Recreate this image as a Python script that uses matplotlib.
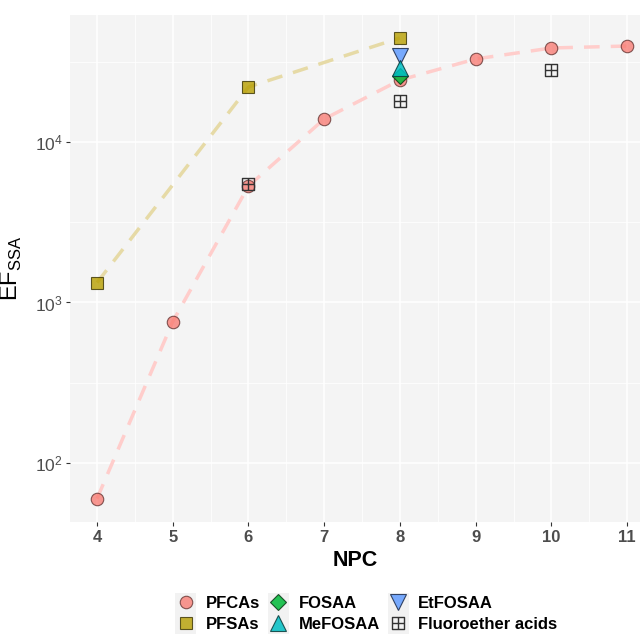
import numpy as np
import matplotlib
matplotlib.use('Agg')
import matplotlib.pyplot as plt
from matplotlib.path import Path
from matplotlib.patches import Rectangle
from matplotlib.ticker import LogLocator, NullFormatter, FixedLocator

plt.rcParams['font.family'] = ['Liberation Sans', 'DejaVu Sans']

# Values
pfca_npc = [4, 5, 6, 7, 8, 9, 10, 11]
pfca_ef = [60, 760, 5320, 13900, 24300, 32900, 38500, 39600]

pfsa_npc = [4, 6, 8]
pfsa_ef = [1330, 22000, 44500]

fosaa_npc = [8]
fosaa_ef = [25900]
mefosaa_npc = [8]
mefosaa_ef = [28900]
etfosaa_npc = [8]
etfosaa_ef = [34400]

ether_npc = [6, 8, 10]
ether_ef = [5500, 18000, 28000]

# square with a cross, like R shape 12
box_cross = Path(
    [(-1, -1), (1, -1), (1, 1), (-1, 1), (-1, -1),
     (0, -1), (0, 1), (-1, 0), (1, 0)],
    [Path.MOVETO, Path.LINETO, Path.LINETO, Path.LINETO, Path.CLOSEPOLY,
     Path.MOVETO, Path.LINETO, Path.MOVETO, Path.LINETO])

fig = plt.figure(figsize=(6.4, 6.34), dpi=100)
ax = fig.add_axes([70 / 640, 112 / 634, 570 / 640, 507 / 634])
ax.set_facecolor('#F4F4F4')
for s in ax.spines.values():
    s.set_visible(False)

ax.set_yscale('log')
ax.set_xlim(3.643, 11.17)
ax.set_ylim(42.9, 61800)

ax.xaxis.set_major_locator(FixedLocator(range(4, 12)))
ax.xaxis.set_minor_locator(FixedLocator(np.arange(3.5, 11.6, 1.0)))
ax.yaxis.set_major_locator(LogLocator(base=10, numticks=10))
ax.yaxis.set_minor_locator(FixedLocator([10 ** 1.5, 10 ** 2.5, 10 ** 3.5, 10 ** 4.5]))
ax.yaxis.set_minor_formatter(NullFormatter())
ax.grid(which='major', color='white', linewidth=1.1)
ax.grid(which='minor', color='white', linewidth=0.55)
ax.set_axisbelow(True)
ax.tick_params(which='major', length=3, color='#333333', width=0.8)
ax.tick_params(which='minor', length=0)
ax.tick_params(axis='x', labelsize=12, labelcolor='#4D4D4D', pad=3)
ax.tick_params(axis='y', labelsize=12.5, labelcolor='#4D4D4D', pad=2)
for lab in ax.get_xticklabels():
    lab.set_fontweight('bold')

# dashed trend lines
ax.plot(pfca_npc, pfca_ef, color='#FFCDCB', lw=2.5, dashes=(4.5, 3.2), zorder=2)
ax.plot(pfsa_npc, pfsa_ef, color='#E6DAA6', lw=2.5, dashes=(4.5, 3.2), zorder=2)

h1, = ax.plot(pfca_npc, pfca_ef, 'o', ms=9, mfc='#F8766D', alpha=0.75,
              mec='#5A2A28', mew=0.8, ls='none', zorder=3, label='PFCAs')
h2, = ax.plot(pfsa_npc, pfsa_ef, 's', ms=9, mfc='#B79F00', alpha=0.8,
              mec='#3A3300', mew=0.8, ls='none', zorder=3, label='PFSAs')
h3, = ax.plot(fosaa_npc, fosaa_ef, 'D', ms=8, mfc='#00BA38', alpha=0.85,
              mec='#0A3A15', mew=0.8, ls='none', zorder=4, label='FOSAA')
h4, = ax.plot(mefosaa_npc, mefosaa_ef, '^', ms=11, mfc='#00BFC4', alpha=0.85,
              mec='#0A3A3A', mew=0.8, ls='none', zorder=5, label='MeFOSAA')
h5, = ax.plot(etfosaa_npc, etfosaa_ef, 'v', ms=11, mfc='#619CFF', alpha=0.85,
              mec='#1A2A4A', mew=0.8, ls='none', zorder=4, label='EtFOSAA')
h6, = ax.plot(ether_npc, ether_ef, marker=box_cross, ms=9, mfc='none',
              mec='#333333', mew=1.0, ls='none', zorder=3,
              label='Fluoroether acids')

ax.set_xlabel('NPC', fontsize=15.5, fontweight='bold', labelpad=3)
ax.set_ylabel(r'EF$_{\mathregular{SSA}}$', fontsize=17, labelpad=8)

leg = fig.legend(handles=[h1, h2, h3, h4, h5, h6], ncol=3,
                 loc='center', bbox_to_anchor=(0.572, 0.0315),
                 frameon=False, prop={'weight': 'bold', 'size': 12},
                 handlelength=1.3, handletextpad=0.55, columnspacing=0.45,
                 labelspacing=0.38, borderpad=0.2)

# gray key boxes behind legend symbols, as in ggplot
fig.canvas.draw()
for txt, hnd in zip(leg.get_texts(), leg.legend_handles):
    bb = txt.get_window_extent()
    cy = (bb.y0 + bb.y1) / 2
    hb = hnd.get_window_extent()
    cx = (hb.x0 + hb.x1) / 2
    fig.patches.append(Rectangle((cx - 10.5, cy - 10.5), 21, 21,
                                 transform=None, facecolor='#F2F2F2',
                                 edgecolor='none', zorder=-1))

fig.savefig('out.png', dpi=100)
